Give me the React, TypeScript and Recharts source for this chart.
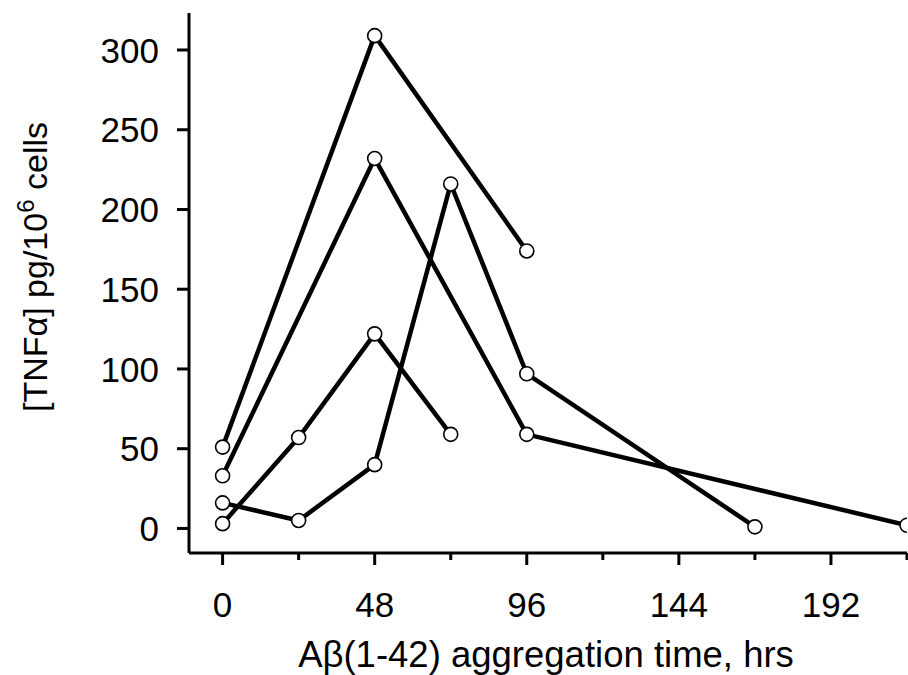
import React from 'react';
import { LineChart, Line, XAxis, YAxis, Label } from 'recharts';

const FONT = '"Liberation Sans", Arial, Helvetica, sans-serif';

// Aggregation time (hrs) and TNF-alpha (pg/10^6 cells) for each experiment
const seriesA = [
  { x: 0, y: 51 },
  { x: 48, y: 309 },
  { x: 96, y: 174 },
];
const seriesB = [
  { x: 0, y: 33 },
  { x: 48, y: 232 },
  { x: 96, y: 59 },
  { x: 216, y: 2 },
];
const seriesC = [
  { x: 0, y: 16 },
  { x: 24, y: 5 },
  { x: 48, y: 40 },
  { x: 72, y: 216 },
  { x: 96, y: 97 },
  { x: 168, y: 1 },
];
const seriesD = [
  { x: 0, y: 3 },
  { x: 24, y: 57 },
  { x: 48, y: 122 },
  { x: 72, y: 59 },
];

const allSeries = [seriesA, seriesB, seriesC, seriesD];

const xTicks = [0, 24, 48, 72, 96, 120, 144, 168, 192, 216];
const xMajorTicks = [0, 48, 96, 144, 192];
const yTicks = [0, 50, 100, 150, 200, 250, 300];

const xDomain = [-10.6, 216];
const yDomain = [-15.4, 323.2];

const XTick = (props: any) => {
  const { x, y, payload } = props;
  const major = xMajorTicks.includes(payload.value);
  return (
    <g>
      <line x1={x} x2={x} y1={y} y2={y + (major ? 12 : 7)} stroke="#000" strokeWidth={3} />
      {major && (
        <text x={x} y={y + 64} textAnchor="middle" fontSize={35} fontFamily={FONT} fill="#000">
          {payload.value}
        </text>
      )}
    </g>
  );
};

const YTick = (props: any) => {
  const { x, y, payload } = props;
  return (
    <g>
      <line x1={x - 12} x2={x} y1={y} y2={y} stroke="#000" strokeWidth={3} />
      <text x={x - 30} y={y} dy="0.36em" textAnchor="end" fontSize={35} fontFamily={FONT} fill="#000">
        {payload.value}
      </text>
    </g>
  );
};

const XTitle = (props: any) => {
  const { viewBox } = props;
  const cx = viewBox.x + viewBox.width / 2 - 2;
  return (
    <text x={cx} y={viewBox.y + 114} textAnchor="middle" fontSize={36.5} fontFamily={FONT} fill="#000">
      Aβ(1-42) aggregation time, hrs
    </text>
  );
};

const YTitle = (props: any) => {
  const { viewBox } = props;
  const cy = viewBox.y + viewBox.height / 2 - 16;
  const bx = 47;
  return (
    <text
      x={bx}
      y={cy}
      transform={`rotate(-90, ${bx}, ${cy})`}
      textAnchor="middle"
      fontSize={34}
      fontFamily={FONT}
      fill="#000"
    >
      <tspan>[TNFα] pg/10</tspan>
      <tspan dy={-13} fontSize={24}>6</tspan>
      <tspan dy={13}> cells</tspan>
    </text>
  );
};

export default function App() {
  return (
    <div style={{ position: 'absolute', left: 0, top: 0, background: '#fff' }}>
      <LineChart width={908} height={675} margin={{ top: 13, right: 1, bottom: 0, left: 0 }}>
        <XAxis
          type="number"
          dataKey="x"
          domain={xDomain}
          ticks={xTicks}
          interval={0}
          allowDataOverflow
          height={122}
          axisLine={{ stroke: '#000', strokeWidth: 3 }}
          tickLine={false}
          tickSize={0}
          tickMargin={0}
          tick={<XTick />}
        >
          <Label content={<XTitle />} />
        </XAxis>
        <YAxis
          type="number"
          dataKey="y"
          domain={yDomain}
          ticks={yTicks}
          interval={0}
          allowDataOverflow
          width={189}
          axisLine={{ stroke: '#000', strokeWidth: 3 }}
          tickLine={false}
          tickSize={0}
          tickMargin={0}
          tick={<YTick />}
        >
          <Label content={<YTitle />} />
        </YAxis>
        {allSeries.map((s, i) => (
          <Line
            key={i}
            data={s}
            dataKey="y"
            type="linear"
            stroke="#000"
            strokeWidth={4.5}
            dot={{ r: 7, fill: '#fff', stroke: '#000', strokeWidth: 1.6 }}
            activeDot={false}
            isAnimationActive={false}
          />
        ))}
      </LineChart>
    </div>
  );
}
